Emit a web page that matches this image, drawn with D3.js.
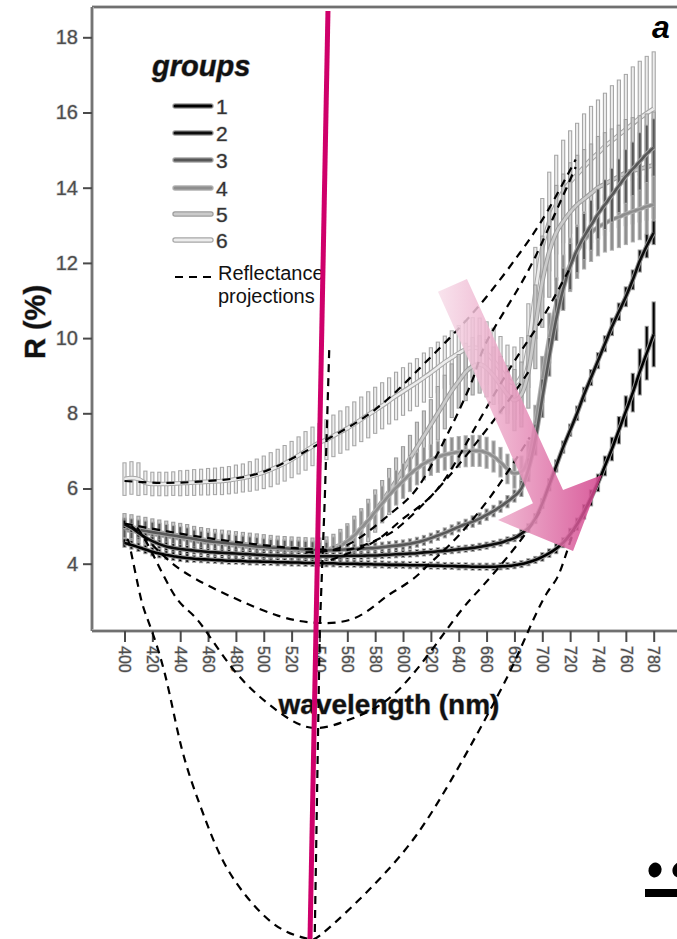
<!DOCTYPE html>
<html>
<head>
<meta charset="utf-8">
<script src="https://cdn.jsdelivr.net/npm/d3@7"></script>
<style>
  body { margin: 0; background: #fff; }
  svg { display: block; }
  text { font-family: "Liberation Sans", Arial, sans-serif; }
</style>
</head>
<body>
<svg id="chart" width="677" height="939"></svg>
<script>
// ---- wavelengths (nm) sampled every 5 nm ----
const wavelengths = [400,405,410,415,420,425,430,435,440,445,450,455,460,465,470,475,480,485,490,495,
  500,505,510,515,520,525,530,535,540,545,550,555,560,565,570,575,580,585,590,595,
  600,605,610,615,620,625,630,635,640,645,650,655,660,665,670,675,680,685,690,695,
  700,705,710,715,720,725,730,735,740,745,750,755,760,765,770,775,780];

// ---- mean reflectance R (%) per group ----
const g1Mean = [4.55,4.5,4.44,4.38,4.32,4.27,4.23,4.2,4.17,4.15,
  4.13,4.12,4.11,4.1,4.09,4.08,4.08,4.07,4.06,4.06,
  4.05,4.05,4.04,4.04,4.03,4.03,4.02,4.02,4.02,4.01,
  4.01,4.0,4.0,4.0,3.99,3.99,3.98,3.98,3.97,3.97,
  3.97,3.96,3.96,3.96,3.95,3.95,3.94,3.94,3.93,3.93,
  3.92,3.92,3.92,3.92,3.93,3.94,3.96,3.99,4.04,4.1,
  4.18,4.28,4.4,4.56,4.78,5.05,5.38,5.75,6.15,6.6,
  7.05,7.55,8.05,8.55,9.1,9.6,10.1];
const g2Mean = [5.05,4.95,4.82,4.7,4.6,4.52,4.46,4.42,4.39,4.37,
  4.35,4.33,4.31,4.3,4.29,4.28,4.27,4.26,4.25,4.24,
  4.23,4.22,4.22,4.21,4.21,4.2,4.2,4.2,4.2,4.2,
  4.2,4.2,4.21,4.21,4.21,4.22,4.22,4.23,4.24,4.25,
  4.26,4.27,4.28,4.3,4.31,4.33,4.34,4.36,4.38,4.4,
  4.42,4.45,4.48,4.52,4.56,4.62,4.68,4.8,4.95,5.2,
  5.6,6.1,6.6,7.1,7.55,8.0,8.5,8.95,9.4,9.85,
  10.3,10.7,11.1,11.55,12.05,12.45,12.8];
const g3Mean = [4.95,4.93,4.9,4.87,4.84,4.81,4.78,4.75,4.72,4.69,
  4.66,4.63,4.6,4.58,4.56,4.54,4.52,4.5,4.48,4.46,
  4.45,4.43,4.42,4.41,4.4,4.39,4.38,4.37,4.36,4.36,
  4.36,4.37,4.38,4.39,4.4,4.41,4.42,4.44,4.46,4.48,
  4.5,4.53,4.57,4.62,4.68,4.75,4.82,4.9,4.98,5.05,
  5.12,5.2,5.3,5.4,5.52,5.65,5.8,6.0,6.5,7.3,
  8.4,9.5,10.5,11.3,11.9,12.35,12.7,13.0,13.3,13.55,
  13.8,14.05,14.3,14.5,14.7,14.9,15.07];
const g4Mean = [4.9,4.88,4.85,4.82,4.79,4.76,4.73,4.7,4.67,4.64,
  4.61,4.58,4.56,4.54,4.52,4.5,4.48,4.46,4.44,4.42,
  4.41,4.4,4.38,4.37,4.36,4.35,4.34,4.33,4.33,4.34,
  4.38,4.47,4.6,4.75,4.95,5.15,5.38,5.6,5.82,6.02,
  6.2,6.38,6.53,6.66,6.76,6.84,6.9,6.94,6.97,6.99,
  7.0,7.0,6.95,6.85,6.7,6.52,6.4,6.45,6.8,7.7,
  8.9,10.0,10.9,11.5,11.95,12.3,12.6,12.8,12.95,13.05,
  13.15,13.22,13.3,13.37,13.43,13.5,13.55];
const g5Mean = [5.0,4.97,4.93,4.9,4.86,4.83,4.8,4.77,4.74,4.71,
  4.68,4.65,4.62,4.6,4.58,4.56,4.54,4.52,4.5,4.48,
  4.46,4.44,4.42,4.41,4.4,4.39,4.38,4.37,4.37,4.38,
  4.42,4.5,4.6,4.75,4.95,5.15,5.4,5.65,5.92,6.2,
  6.5,6.8,7.1,7.4,7.7,8.0,8.3,8.6,8.85,9.1,
  9.25,9.3,9.2,9.0,8.75,8.5,8.35,8.5,9.1,10.3,
  11.5,12.3,12.8,13.1,13.35,13.55,13.7,13.85,14.0,14.1,
  14.2,14.3,14.4,14.45,14.5,14.55,14.6];
const g6Mean = [6.25,6.28,6.25,6.15,6.12,6.12,6.12,6.13,6.14,6.15,
  6.16,6.17,6.18,6.19,6.2,6.22,6.25,6.28,6.32,6.37,
  6.43,6.5,6.58,6.67,6.77,6.88,7.0,7.12,7.22,7.3,
  7.4,7.5,7.6,7.72,7.84,7.96,8.08,8.2,8.33,8.46,
  8.58,8.7,8.82,8.95,9.08,9.22,9.36,9.48,9.6,9.7,
  9.75,9.72,9.6,9.4,9.15,8.9,8.8,9.0,9.8,11.2,
  12.4,13.1,13.55,13.9,14.15,14.35,14.55,14.75,14.92,15.1,
  15.25,15.4,15.55,15.7,15.85,15.98,16.1];

// ---- error bar half-widths (R %) per group ----
const g1Err = [0.1,0.1,0.1,0.1,0.1,0.1,0.1,0.1,0.1,0.1,
  0.08,0.08,0.08,0.08,0.08,0.08,0.08,0.08,0.08,0.08,
  0.08,0.08,0.08,0.08,0.08,0.08,0.08,0.08,0.08,0.08,
  0.08,0.08,0.08,0.08,0.08,0.08,0.08,0.08,0.08,0.08,
  0.08,0.08,0.08,0.08,0.08,0.08,0.08,0.08,0.08,0.08,
  0.08,0.08,0.08,0.08,0.08,0.08,0.08,0.08,0.08,0.08,
  0.1,0.1,0.12,0.12,0.15,0.15,0.18,0.2,0.22,0.25,
  0.3,0.35,0.4,0.5,0.6,0.7,0.85];
const g2Err = [0.1,0.1,0.1,0.1,0.1,0.1,0.1,0.1,0.1,0.1,
  0.08,0.08,0.08,0.08,0.08,0.08,0.08,0.08,0.08,0.08,
  0.08,0.08,0.08,0.08,0.08,0.08,0.08,0.08,0.08,0.08,
  0.08,0.08,0.08,0.08,0.08,0.08,0.08,0.08,0.08,0.08,
  0.08,0.08,0.08,0.08,0.08,0.08,0.08,0.08,0.08,0.08,
  0.08,0.08,0.08,0.08,0.08,0.08,0.08,0.1,0.1,0.12,
  0.12,0.15,0.15,0.15,0.15,0.18,0.18,0.2,0.2,0.2,
  0.22,0.22,0.25,0.25,0.28,0.3,0.3];
const g3Err = [0.25,0.25,0.25,0.25,0.25,0.25,0.25,0.25,0.25,0.25,
  0.22,0.22,0.22,0.22,0.22,0.22,0.22,0.22,0.22,0.22,
  0.2,0.2,0.2,0.2,0.2,0.2,0.2,0.2,0.2,0.2,
  0.12,0.12,0.12,0.12,0.12,0.12,0.12,0.12,0.12,0.12,
  0.12,0.12,0.12,0.12,0.12,0.12,0.12,0.12,0.12,0.12,
  0.14,0.14,0.14,0.14,0.14,0.15,0.15,0.2,0.3,0.4,
  0.5,0.5,0.55,0.55,0.6,0.6,0.6,0.65,0.65,0.65,
  0.7,0.7,0.7,0.7,0.75,0.75,0.75];
const g4Err = [0.3,0.3,0.3,0.3,0.3,0.3,0.3,0.3,0.3,0.3,
  0.28,0.28,0.28,0.28,0.28,0.28,0.28,0.28,0.28,0.28,
  0.26,0.26,0.26,0.26,0.26,0.26,0.26,0.26,0.26,0.28,
  0.32,0.36,0.4,0.42,0.44,0.45,0.45,0.45,0.45,0.45,
  0.45,0.45,0.42,0.42,0.4,0.4,0.4,0.4,0.4,0.4,
  0.4,0.4,0.4,0.4,0.38,0.38,0.38,0.4,0.45,0.5,
  0.6,0.65,0.7,0.7,0.7,0.7,0.75,0.75,0.75,0.75,
  0.8,0.8,0.8,0.8,0.8,0.8,0.8];
const g5Err = [0.32,0.32,0.32,0.32,0.32,0.32,0.32,0.32,0.32,0.32,
  0.3,0.3,0.3,0.3,0.3,0.3,0.3,0.3,0.3,0.3,
  0.3,0.3,0.3,0.3,0.3,0.3,0.3,0.3,0.3,0.32,
  0.35,0.4,0.45,0.5,0.5,0.55,0.55,0.55,0.6,0.6,
  0.6,0.6,0.65,0.65,0.65,0.7,0.7,0.7,0.7,0.75,
  0.75,0.75,0.75,0.75,0.75,0.75,0.8,0.85,0.95,1.1,
  1.2,1.2,1.25,1.25,1.3,1.3,1.3,1.3,1.35,1.35,
  1.35,1.35,1.4,1.4,1.4,1.4,1.4];
const g6Err = [0.42,0.42,0.42,0.3,0.3,0.3,0.3,0.3,0.32,0.32,
  0.33,0.33,0.34,0.34,0.35,0.35,0.36,0.36,0.38,0.4,
  0.42,0.44,0.45,0.46,0.47,0.48,0.5,0.5,0.5,0.52,
  0.54,0.55,0.56,0.57,0.58,0.6,0.6,0.6,0.6,0.62,
  0.62,0.62,0.62,0.64,0.65,0.66,0.68,0.7,0.72,0.75,
  0.78,0.8,0.82,0.85,0.88,0.9,0.95,1.0,1.1,1.2,
  1.3,1.3,1.3,1.35,1.35,1.35,1.4,1.4,1.4,1.4,
  1.45,1.45,1.45,1.5,1.5,1.5,1.5];

// ---- reflectance projections: [wavelength, R %] ----
const projTop = [[400,6.2],[430,6.15],[460,6.2],[485,6.3],[510,6.6],[544,7.28],[580,8.1],[612,9.2],[636,10.1],[660,11.1],[684,12.27],[703,13.33],[724,14.75]];
const projSteep = [[530,4.3],[560,4.5],[590,5.3],[610,6.0],[630,7.3],[650,8.9],[660,9.9],[684,11.4],[703,12.8],[724,14.55]];
const projMid = [[548,4.1],[580,4.6],[600,5.2],[624,5.95],[650,7.5],[679,9.33],[698,10.4],[719,11.8]];
const projCluster = [[400,5.07],[440,4.8],[480,4.58],[520,4.42],[545,4.37],[564,4.4],[585,4.7],[600,5.07],[626,6.03],[654,7.28],[676,8.35],[690,9.1]];
const projShallow = [[405,5.0],[420,4.5],[442,3.8],[478,3.1],[510,2.62],[537,2.43],[565,2.55],[586,3.07],[598,3.36],[610,3.68],[619,4.0],[640,4.75],[667,6.0],[691,7.36]];
const projMedium = [[409,4.96],[419,4.35],[437,3.1],[453,2.48],[479,1.15],[510,0.08],[536,-0.37],[564,-0.11],[598,0.69],[636,2.48],[657,3.4],[684,4.6],[700,5.5]];
const projDeep = [[402,4.6],[404,4.43],[411,3.2],[417,2.48],[429,1.07],[441,-0.9],[455,-2.5],[471,-3.92],[491,-5.0],[512,-5.7],[531,-5.97],[541,-5.87],[562,-5.17],[586,-4.27],[610,-3.2],[634,-1.79],[657,-0.27],[677,1.15],[691,2.3],[703,3.2],[711,3.65],[718,4.36],[723,4.9]];
const projNarrow = [[547,9.68],[543.8,5.7],[540.2,2.25],[536.6,-5.9]];

// ---- axis ticks ----
const yTicks = [4,6,8,10,12,14,16,18];
const xTicks = [400,420,440,460,480,500,520,540,560,580,600,620,640,660,680,700,720,740,760,780];

// ---- legend entries ----
const groupLabels = ["1","2","3","4","5","6"];

// ---- annotations in data space: marker line and highlight arrow ----
const markerLine = [[546.1,18.7],[533.2,-5.98]];
const arrowShape = [[625.1,11.23],[645.9,11.57],[714.9,5.96],[742.9,6.36],[722.1,4.34],[668.2,5.16],[693.3,5.61]];

const svg = d3.select("#chart");
const W = 677, H = 939;
const frameLeft = 92, frameTop = 7, frameBottom = 631;

const x = d3.scaleLinear().domain([400, 780]).range([124.5, 653.7]);
const y = d3.scaleLinear().domain([4, 18]).range([563.7, 37.3]);

svg.append("rect").attr("width", W).attr("height", H).attr("fill", "#fff");

// ---- frame ----
const frame = svg.append("g");
function frameLine(x1, y1, x2, y2) {
  frame.append("line").attr("x1", x1).attr("y1", y1).attr("x2", x2).attr("y2", y2)
    .attr("stroke", "#b4b4b4").attr("stroke-width", 3.6);
  frame.append("line").attr("x1", x1).attr("y1", y1).attr("x2", x2).attr("y2", y2)
    .attr("stroke", "#5a5a5a").attr("stroke-width", 1.4);
}
frameLine(frameLeft, frameTop, W, frameTop);
frameLine(frameLeft, frameTop, frameLeft, frameBottom);
frameLine(frameLeft, frameBottom, W, frameBottom);

// ---- axes ----
const gy = svg.append("g").attr("transform", `translate(${frameLeft},0)`)
  .call(d3.axisLeft(y).tickValues(yTicks).tickSize(9).tickPadding(5));
gy.select(".domain").remove();
gy.selectAll(".tick line").attr("stroke", "#4a4a4a").attr("stroke-width", 2);
gy.selectAll(".tick text")
  .attr("font-size", 20).attr("fill", "#4d4d4d")
  .attr("stroke", "#c9c9c9").attr("stroke-width", 1.2).attr("paint-order", "stroke")
  .style("font-family", "'Liberation Sans', Arial, sans-serif");

const gx = svg.append("g").attr("transform", `translate(0,${frameBottom})`)
  .call(d3.axisBottom(x).tickValues(xTicks).tickSize(11).tickFormat(d3.format("d")));
gx.select(".domain").remove();
gx.selectAll(".tick line").attr("stroke", "#4a4a4a").attr("stroke-width", 2);
gx.selectAll(".tick text")
  .attr("transform", "rotate(90)")
  .attr("x", 15).attr("y", 0).attr("dy", "0.36em")
  .style("text-anchor", "start")
  .attr("font-size", 16).attr("fill", "#4d4d4d")
  .attr("stroke", "#c9c9c9").attr("stroke-width", 1.2).attr("paint-order", "stroke")
  .style("font-family", "'Liberation Sans', Arial, sans-serif");

// axis titles
svg.append("text").attr("x", 389).attr("y", 714)
  .attr("text-anchor", "middle").attr("font-size", 28).attr("font-weight", "bold")
  .attr("fill", "#111").attr("stroke", "#aaa").attr("stroke-width", 1).attr("paint-order", "stroke")
  .text("wavelength (nm)");
svg.append("text").attr("transform", "translate(45,322) rotate(-90)")
  .attr("text-anchor", "middle").attr("font-size", 29).attr("font-weight", "bold")
  .attr("fill", "#111").attr("stroke", "#aaa").attr("stroke-width", 1).attr("paint-order", "stroke")
  .text("R (%)");

// ---- series ----
const series = [
  { label: "6", mean: g6Mean, err: g6Err, fill: "#ededed", edge: "#a6a6a6" },
  { label: "5", mean: g5Mean, err: g5Err, fill: "#cbcbcb", edge: "#9c9c9c" },
  { label: "4", mean: g4Mean, err: g4Err, fill: "#8e8e8e", edge: "#b3b3b3" },
  { label: "3", mean: g3Mean, err: g3Err, fill: "#575757", edge: "#a8a8a8" },
  { label: "2", mean: g2Mean, err: g2Err, fill: "#0c0c0c", edge: "#9a9a9a" },
  { label: "1", mean: g1Mean, err: g1Err, fill: "#000000", edge: "#9a9a9a" }
];

const meanLine = d3.line()
  .x(d => x(d[0])).y(d => y(d[1]))
  .curve(d3.curveMonotoneX);

const plot = svg.append("g");
series.forEach(s => {
  const pts = wavelengths.map((w, i) => ({ w, m: s.mean[i], e: s.err[i] }));
  const g = plot.append("g");
  // error bars: a light edge, then the group colour inside
  g.selectAll("line.edge").data(pts).join("line").attr("class", "edge")
    .attr("x1", d => x(d.w)).attr("x2", d => x(d.w))
    .attr("y1", d => y(d.m - d.e) + 1).attr("y2", d => y(d.m + d.e) - 1)
    .attr("stroke", s.edge).attr("stroke-width", 4.2);
  g.selectAll("line.core").data(pts).join("line").attr("class", "core")
    .attr("x1", d => x(d.w)).attr("x2", d => x(d.w))
    .attr("y1", d => y(d.m - d.e)).attr("y2", d => y(d.m + d.e))
    .attr("stroke", s.fill).attr("stroke-width", 2);
  const lineData = wavelengths.map((w, i) => [w, s.mean[i]]);
  g.append("path").attr("d", meanLine(lineData))
    .attr("fill", "none").attr("stroke", s.edge).attr("stroke-width", 4.6);
  g.append("path").attr("d", meanLine(lineData))
    .attr("fill", "none").attr("stroke", s.fill).attr("stroke-width", 2.6);
});

// ---- reflectance projections ----
const projLine = d3.line().x(d => x(d[0])).y(d => y(d[1])).curve(d3.curveNatural);
const projGroup = svg.append("g");
[projTop, projSteep, projMid, projCluster, projShallow, projMedium, projDeep].forEach(p => {
  projGroup.append("path").attr("d", projLine(p))
    .attr("fill", "none").attr("stroke", "#000").attr("stroke-width", 2.2)
    .attr("stroke-dasharray", "8,6");
});
projGroup.append("path").attr("d", d3.line().x(d => x(d[0])).y(d => y(d[1]))(projNarrow))
  .attr("fill", "none").attr("stroke", "#000").attr("stroke-width", 2.2)
  .attr("stroke-dasharray", "8,6");

// ---- legend ----
const legend = svg.append("g");
legend.append("text").attr("x", 152).attr("y", 76)
  .attr("font-size", 29).attr("font-weight", "bold").attr("font-style", "italic")
  .attr("fill", "#111").attr("stroke", "#999").attr("stroke-width", 1).attr("paint-order", "stroke")
  .text("groups");
const legendRows = [106, 133, 160, 188, 214, 240];
const legendOrder = series.slice().reverse();
groupLabels.forEach((lab, i) => {
  const s = legendOrder[i];
  const yy = legendRows[i];
  legend.append("line").attr("x1", 175).attr("x2", 211).attr("y1", yy).attr("y2", yy)
    .attr("stroke", s.edge).attr("stroke-width", 5.4).attr("stroke-linecap", "round");
  legend.append("line").attr("x1", 175).attr("x2", 211).attr("y1", yy).attr("y2", yy)
    .attr("stroke", s.fill).attr("stroke-width", 3).attr("stroke-linecap", "round");
  legend.append("text").attr("x", 216).attr("y", yy).attr("dy", "0.36em")
    .attr("font-size", 21).attr("fill", "#333")
    .attr("stroke", "#bbb").attr("stroke-width", 1).attr("paint-order", "stroke")
    .text(lab);
});
legend.append("line").attr("x1", 175).attr("x2", 213).attr("y1", 277).attr("y2", 277)
  .attr("stroke", "#000").attr("stroke-width", 2.2).attr("stroke-dasharray", "8,6");
legend.append("text").attr("x", 218).attr("y", 280)
  .attr("font-size", 20).attr("fill", "#111").text("Reflectance");
legend.append("text").attr("x", 218).attr("y", 303)
  .attr("font-size", 20).attr("fill", "#111").text("projections");

// ---- highlight arrow ----
const defs = svg.append("defs");
const grad = defs.append("linearGradient").attr("id", "arrowGrad")
  .attr("gradientUnits", "userSpaceOnUse")
  .attr("x1", x(625)).attr("y1", 0).attr("x2", x(743)).attr("y2", 0);
grad.append("stop").attr("offset", "0%").attr("stop-color", "#f7dfea");
grad.append("stop").attr("offset", "45%").attr("stop-color", "#ea9ec2");
grad.append("stop").attr("offset", "100%").attr("stop-color", "#d2408a");
svg.append("polygon")
  .attr("points", arrowShape.map(d => [x(d[0]), y(d[1])].join(",")).join(" "))
  .attr("fill", "url(#arrowGrad)").attr("opacity", 0.85);

// ---- marker line ----
svg.append("line")
  .attr("x1", x(markerLine[0][0])).attr("y1", y(markerLine[0][1]))
  .attr("x2", x(markerLine[1][0])).attr("y2", y(markerLine[1][1]))
  .attr("stroke", "#cf006b").attr("stroke-width", 5);

// ---- panel letter ----
svg.append("text").attr("x", 652).attr("y", 38)
  .attr("font-size", 32).attr("font-weight", "bold").attr("font-style", "italic")
  .attr("fill", "#000").text("a");

// ---- edge of the neighbouring panel (bottom right) ----
const corner = svg.append("g");
corner.append("ellipse").attr("cx", 655).attr("cy", 870).attr("rx", 6.5).attr("ry", 7.5)
  .attr("transform", "rotate(15,655,870)").attr("fill", "#000");
corner.append("ellipse").attr("cx", 679).attr("cy", 870).attr("rx", 6.5).attr("ry", 7.5)
  .attr("transform", "rotate(15,679,870)").attr("fill", "#000");
corner.append("rect").attr("x", 645).attr("y", 889).attr("width", 40).attr("height", 8).attr("fill", "#000");
</script>
</body>
</html>
